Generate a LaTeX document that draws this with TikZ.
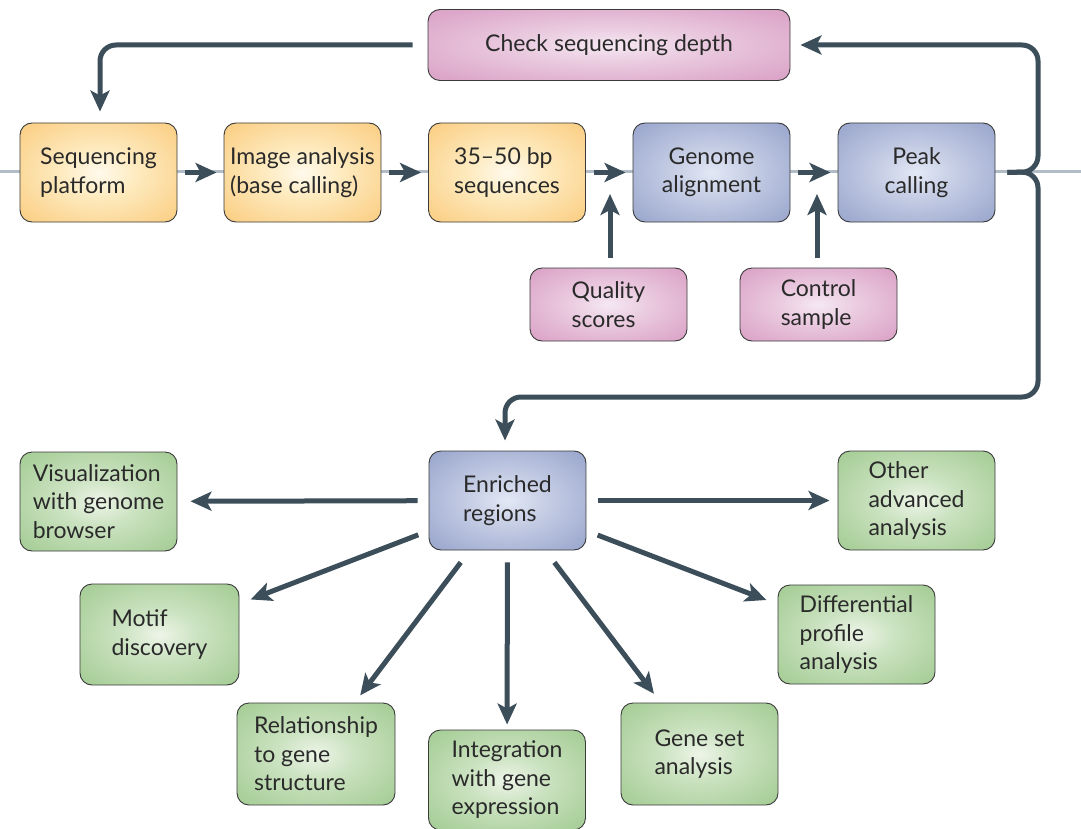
\documentclass[tikz,border=0pt]{standalone}
\usepackage{fontspec}
\setmainfont{Lato}
\usetikzlibrary{arrows.meta,calc}
\definecolor{arrc}{HTML}{3C4E5A}
\definecolor{grayln}{HTML}{B1BCC6}
\definecolor{boxbd}{HTML}{3A3A3A}
\definecolor{txtc}{HTML}{2A2A2A}
\pgfdeclareradialshading{orangeglow}{\pgfpoint{0bp}{0bp}}{rgb(0bp)=(1,0.98,0.93); rgb(12bp)=(0.995,0.92,0.75); rgb(32bp)=(0.984,0.82,0.54); rgb(50bp)=(0.984,0.82,0.54)}
\pgfdeclareradialshading{pinkglow}{\pgfpoint{0bp}{0bp}}{rgb(0bp)=(0.96,0.91,0.95); rgb(12bp)=(0.92,0.8,0.88); rgb(32bp)=(0.863,0.651,0.788); rgb(50bp)=(0.863,0.651,0.788)}
\pgfdeclareradialshading{blueglow}{\pgfpoint{0bp}{0bp}}{rgb(0bp)=(0.89,0.91,0.96); rgb(12bp)=(0.78,0.81,0.9); rgb(32bp)=(0.62,0.667,0.812); rgb(50bp)=(0.62,0.667,0.812)}
\pgfdeclareradialshading{greenglow}{\pgfpoint{0bp}{0bp}}{rgb(0bp)=(0.93,0.96,0.91); rgb(12bp)=(0.8,0.89,0.76); rgb(32bp)=(0.66,0.81,0.6); rgb(50bp)=(0.66,0.81,0.6)}
\tikzset{
  box/.style={rounded corners=12pt, draw=boxbd, line width=0.9pt, minimum width=157pt, minimum height=99pt, inner sep=0pt, align=left, text=txtc, font=\fontsize{23}{28.5}\selectfont},
  obox/.style={box, shading=orangeglow},
  pbox/.style={box, shading=pinkglow},
  bbox/.style={box, shading=blueglow},
  gbox/.style={box, shading=greenglow},
  arr/.style={draw=arrc, line width=5pt, -{Stealth[length=21pt,width=19pt,inset=5pt]}},
  grayline/.style={draw=grayln, line width=3pt}
}
\begin{document}
\begin{tikzpicture}[x=1pt,y=-1pt]
\useasboundingbox (0,0) rectangle (1081,829);
\coordinate (gl0) at (0,172);
\coordinate (gl1) at (1081,172);
\draw[grayline] (gl0) -- (gl1);
% top row
\node[pbox, minimum width=362pt, minimum height=71pt] (chk) at (609,45) {Check sequencing depth};
\node[obox] (sp) at (98.5,172.5) {Sequencing\\platform};
\node[obox] (ia) at (302.5,172.5) {Image analysis\\(base calling)};
\node[obox] (bp) at (507,172.5) {35–50 bp\\sequences};
\node[bbox, align=center] (ga) at (711.5,172.5) {Genome\\alignment};
\node[bbox, align=center] (pk) at (916.5,172.5) {Peak\\calling};
\node[pbox, minimum height=73pt] (qs) at (608.5,304.5) {Quality\\scores};
\node[pbox, minimum height=73pt] (cs) at (818.5,304.5) {Control\\sample};
% bottom
\node[bbox] (enr) at (507.5,500.5) {Enriched\\regions};
\node[gbox] (vis) at (98.5,501.5) {Visualization\\with genome\\browser};
\node[gbox] (oth) at (916.5,500.5) {Other\\advanced\\analysis};
\node[gbox, minimum width=159pt, minimum height=101pt] (mot) at (159.5,634.5) {Motif\\discovery};
\node[gbox] (dif) at (856.5,634.5) {Differential\\profile\\analysis};
\node[gbox, minimum width=158pt, minimum height=102pt] (rel) at (316,754) {Relationship\\to gene\\structure};
\node[gbox, minimum height=100pt] (int) at (507,780) {Integration\\with gene\\expression};
\node[gbox, minimum height=102pt] (gs) at (699.5,754) {Gene set\\analysis};
% pipeline arrows
\draw[arr, shorten <=8pt, shorten >=7pt] (sp) -- (ia);
\draw[arr, shorten <=8pt, shorten >=7pt] (ia) -- (bp);
\draw[arr, shorten <=8pt, shorten >=7pt] (bp) -- (ga);
\draw[arr, shorten <=8pt, shorten >=7pt] (ga) -- (pk);
\coordinate (qt) at (610,172);
\coordinate (ct) at (817,172);
\draw[arr, shorten <=10pt, shorten >=22pt] (qt |- qs.north) -- (qt);
\draw[arr, shorten <=10pt, shorten >=22pt] (ct |- cs.north) -- (ct);
% feedback loops
\coordinate (c1) at (100,45);
\draw[arr, rounded corners=16pt, shorten <=15pt, shorten >=11pt] (chk.west) -- (c1) -- (c1 |- sp.north);
\coordinate (r0) at (1038,172);
\coordinate (r1) at (1038,45);
\coordinate (r2) at (1038,397);
\coordinate (r3) at (505,397);
\draw[arr, rounded corners=16pt, shorten <=12pt, shorten >=10pt] (pk.east) -- (r0) -- (r1) -- (chk.east);
\draw[arr, rounded corners=16pt, shorten <=12pt, shorten >=10pt] (pk.east) -- (r0) -- (r2) -- (r3) -- (r3 |- enr.north);
% radial arrows
\draw[arr, shorten <=11pt, shorten >=13pt] (enr) -- (vis);
\draw[arr, shorten <=12pt, shorten >=8pt] (enr) -- (oth);
\draw[arr, shorten <=11pt, shorten >=12pt] (enr) -- (mot);
\draw[arr, shorten <=15pt, shorten >=9pt] (enr) -- (rel);
\draw[arr, shorten <=12pt, shorten >=5pt] (enr) -- (int);
\draw[arr, shorten <=15pt, shorten >=11pt] (enr) -- (gs);
\draw[arr, shorten <=12pt, shorten >=12pt] (enr) -- (dif);
\end{tikzpicture}
\end{document}
